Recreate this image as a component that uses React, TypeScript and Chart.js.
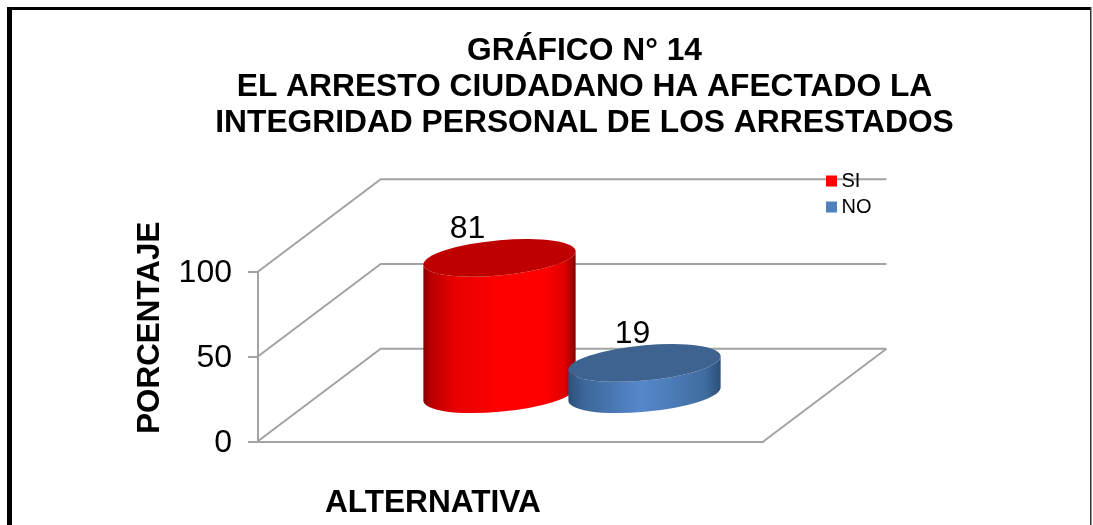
import React, { useEffect, useRef } from "react";
import { Chart, registerables } from "chart.js";

Chart.register(...registerables);

const categories = [""];
const seriesNames = ["SI", "NO"];
const siValues = [81];
const noValues = [19];
const yTicks = [0, 50, 100];
const titleLines = [
  "GRÁFICO N° 14",
  "EL ARRESTO CIUDADANO HA AFECTADO LA",
  "INTEGRIDAD PERSONAL DE LOS ARRESTADOS",
];
const yTitle = "PORCENTAJE";
const xTitle = "ALTERNATIVA";

const FONT = "'Liberation Sans', Arial, sans-serif";
const GRID = "#A3A3A3";
const DEPTH_X = 123.2;
const DEPTH_Y = 92.7;
const DEPTH_AT = 0.5;

const looks = [
  {
    top: "#BF0000",
    labelDx: -32,
    labelDy: -29,
    stops: [[0, "#880000"], [0.05, "#B80000"], [0.2, "#E60000"], [0.5, "#FF0000"], [0.8, "#FF0000"], [0.93, "#DE0000"], [1, "#880000"]],
  },
  {
    top: "#3F6390",
    labelDx: -12,
    labelDy: -29,
    stops: [[0, "#2C4F78"], [0.1, "#3C6699"], [0.47, "#5587CB"], [0.62, "#4F80BE"], [0.9, "#3F6C9F"], [1, "#2C4F78"]],
  },
];

function shiftTitle(scale: any, dx: number, dy: number) {
  if (scale.__wrapped) return;
  scale.__wrapped = true;
  const orig = scale.drawTitle;
  scale.drawTitle = function (...args: any[]) {
    const ctx = this.ctx;
    ctx.save();
    ctx.translate(dx, dy);
    orig.apply(this, args);
    ctx.restore();
  };
}

const scenePlugin = {
  id: "scene",
  afterLayout(chart: any) {
    chart.titleBlock.left = 76;
    chart.titleBlock.right = 1093;
  },
  beforeDraw(chart: any) {
    const { ctx, width, height } = chart;
    ctx.save();
    ctx.fillStyle = "#FFFFFF";
    ctx.fillRect(0, 0, width, height);
    ctx.fillStyle = "#000000";
    ctx.fillRect(7, 7, 1084, 3);
    ctx.fillRect(7, 7, 5, height - 7);
    ctx.fillStyle = "#333333";
    ctx.fillRect(1090, 7, 1.5, height - 7);
    ctx.restore();
  },
  beforeDatasetsDraw(chart: any) {
    const { ctx, chartArea, scales } = chart;
    const { left, right } = chartArea;
    const y0 = scales.y.getPixelForValue(0);
    ctx.save();
    ctx.strokeStyle = GRID;
    ctx.lineWidth = 2;
    ctx.beginPath();
    for (const t of scales.y.ticks) {
      const y = scales.y.getPixelForValue(t.value);
      ctx.moveTo(left, y);
      ctx.lineTo(left + DEPTH_X, y - DEPTH_Y);
      ctx.lineTo(right + DEPTH_X, y - DEPTH_Y);
    }
    ctx.moveTo(right, y0);
    ctx.lineTo(right + DEPTH_X, y0 - DEPTH_Y);
    ctx.stroke();
    ctx.restore();
  },
  beforeDatasetDraw() {
    return false;
  },
  afterDatasetsDraw(chart: any) {
    const { ctx, data } = chart;
    data.datasets.forEach((ds: any, i: number) => {
      const bar = chart.getDatasetMeta(i).data[0];
      const look = looks[i];
      const cx = bar.x + DEPTH_X * DEPTH_AT;
      const top = bar.y - DEPTH_Y * DEPTH_AT;
      const base = bar.base - DEPTH_Y * DEPTH_AT;
      const a = (bar.width * 1.05) / 2;
      const skew = a * 0.088;
      const c = a * 0.232;
      const ell = (cy: number, from: number, to: number, ccw: boolean) => {
        ctx.save();
        ctx.transform(a, -skew, 0, c, cx, cy);
        ctx.arc(0, 0, 1, from, to, ccw);
        ctx.restore();
      };
      const g = ctx.createLinearGradient(cx - a, 0, cx + a, 0);
      look.stops.forEach(([p, col]: any) => g.addColorStop(p, col));
      ctx.save();
      ctx.fillStyle = g;
      ctx.beginPath();
      ell(base, Math.PI, 0, true);
      ell(top, 0, Math.PI, false);
      ctx.closePath();
      ctx.fill();
      ctx.fillStyle = look.top;
      ctx.beginPath();
      ell(top, 0, Math.PI * 2, false);
      ctx.fill();
      ctx.fillStyle = "#000000";
      ctx.font = `32px ${FONT}`;
      ctx.textAlign = "center";
      ctx.textBaseline = "middle";
      ctx.fillText(String(ds.data[0]), cx + look.labelDx, top + look.labelDy);
      ctx.restore();
    });
    // Legend
    ctx.save();
    ctx.font = `20px ${FONT}`;
    ctx.textBaseline = "middle";
    ctx.textAlign = "left";
    data.datasets.forEach((ds: any, i: number) => {
      const y = 181 + i * 26;
      ctx.fillStyle = ds.backgroundColor;
      ctx.fillRect(826, y - 5.5, 11, 11);
      ctx.fillStyle = "#000000";
      ctx.fillText(ds.label, 841.5, y);
    });
    ctx.restore();
  },
};

export default function App() {
  const ref = useRef<HTMLCanvasElement>(null);
  useEffect(() => {
    const chart = new Chart(ref.current as any, {
      type: "bar",
      data: {
        labels: categories,
        datasets: [
          { label: seriesNames[0], data: siValues, backgroundColor: "#FF0000" },
          { label: seriesNames[1], data: noValues, backgroundColor: "#4F81BD" },
        ],
      },
      options: {
        animation: false,
        responsive: false,
        events: [],
        layout: { padding: { left: 0, right: 329.7, top: 0, bottom: 0 } },
        datasets: { bar: { categoryPercentage: 0.5734, barPercentage: 1 } },
        plugins: {
          legend: { display: false },
          tooltip: { enabled: false },
          title: {
            display: true,
            text: titleLines,
            color: "#000000",
            font: { family: FONT, size: 31.75, weight: "bold", lineHeight: 1.134 },
            padding: { top: 33, bottom: 131 },
          },
        },
        scales: {
          x: {
            grid: { display: false },
            ticks: { display: false },
            border: { display: true, color: GRID, width: 2 },
            title: {
              display: true,
              text: xTitle,
              color: "#000000",
              font: { family: FONT, size: 31.6, weight: "bold" },
              padding: { top: 9, bottom: 0 },
            },
            afterFit(s: any) {
              s.height = 83.5;
              shiftTitle(s, -77.5, -3);
            },
          },
          y: {
            min: 0,
            max: 100,
            afterBuildTicks(s: any) {
              s.ticks = yTicks.map((value) => ({ value }));
            },
            grid: { drawOnChartArea: false, drawTicks: true, tickLength: 9.5, color: GRID, lineWidth: 2 },
            border: { display: true, color: GRID, width: 2 },
            ticks: { color: "#000000", padding: 16, labelOffset: 1.5, font: { family: FONT, size: 32 } },
            title: {
              display: true,
              text: yTitle,
              color: "#000000",
              font: { family: FONT, size: 31.4, weight: "bold" },
              padding: { top: 132, bottom: 0 },
            },
            afterFit(s: any) {
              s.width = 257.5;
              shiftTitle(s, 0, -29);
            },
          },
        },
      },
      plugins: [scenePlugin],
    } as any);
    return () => chart.destroy();
  }, []);
  return (
    <canvas
      ref={ref}
      width={1093}
      height={525}
      style={{ position: "absolute", left: 0, top: 0, display: "block" }}
    />
  );
}
